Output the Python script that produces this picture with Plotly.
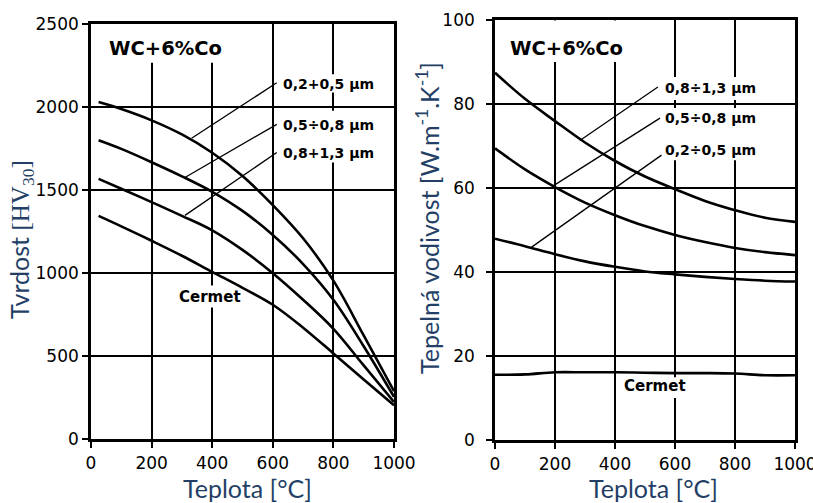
import plotly.graph_objects as go

# ---------------- data ----------------
# Left: hardness HV30 vs temperature
temp_h = [25, 100, 200, 300, 400, 500, 600, 700, 800, 900, 1000]
hv_02_05 = [2030, 1988, 1920, 1835, 1725, 1585, 1410, 1210, 955, 625, 290]
hv_05_08 = [1800, 1748, 1668, 1583, 1490, 1375, 1230, 1055, 840, 560, 255]
hv_08_13 = [1568, 1508, 1428, 1345, 1258, 1140, 1000, 840, 665, 445, 225]
hv_cermet = [1345, 1282, 1195, 1105, 1008, 912, 810, 672, 517, 360, 205]

# Right: thermal conductivity vs temperature
temp_k = [0, 100, 200, 300, 400, 500, 600, 700, 800, 900, 1000]
k_08_13 = [87.5, 81.3, 76, 70.9, 66.5, 62.8, 59.8, 57, 54.8, 53, 52]
k_05_08 = [69.5, 64.5, 60.3, 56.6, 53.6, 51, 48.9, 47.2, 45.8, 44.8, 44.1]
k_02_05 = [48, 46.2, 44.3, 42.6, 41.3, 40.2, 39.5, 38.9, 38.4, 38, 37.8]
k_cermet = [15.6, 15.7, 16.2, 16.2, 16.2, 16.1, 16.0, 16.0, 15.9, 15.5, 15.5]

x_ticks = [0, 200, 400, 600, 800, 1000]
hv_ticks = [0, 500, 1000, 1500, 2000, 2500]
k_ticks = [0, 20, 40, 60, 80, 100]

# labels: (text, x, y) ; leaders: (x0, y0, x1, y1)
left_labels = [("0,2+0,5 µm", 627, 2141), ("0,5÷0,8 µm", 627, 1895), ("0,8+1,3 µm", 627, 1721)]
left_leaders = [(613, 2146, 332, 1812), (613, 1896, 310, 1576), (613, 1726, 310, 1348)]
right_labels = [("0,8÷1,3 µm", 560, 83.9), ("0,5÷0,8 µm", 560, 76.7), ("0,2÷0,5 µm", 560, 69.1)]
right_leaders = [(543, 84.1, 283, 71.4), (550, 76.7, 190, 60.4), (555, 67.9, 122, 46.0)]

# ---------------- figure ----------------
fig = go.Figure()
lw = 2.6
for ys in [hv_02_05, hv_05_08, hv_08_13, hv_cermet]:
    fig.add_trace(go.Scatter(x=temp_h, y=ys, mode="lines", line=dict(color="black", width=lw, shape="spline", smoothing=1.0),
                             xaxis="x", yaxis="y", showlegend=False, hoverinfo="skip"))
for ys in [k_08_13, k_05_08, k_02_05, k_cermet]:
    fig.add_trace(go.Scatter(x=temp_k, y=ys, mode="lines", line=dict(color="black", width=lw, shape="spline", smoothing=1.0),
                             xaxis="x2", yaxis="y2", showlegend=False, hoverinfo="skip"))

tick_font = dict(family="DejaVu Sans", size=17, color="black")
axis_common = dict(showline=True, mirror=True, linecolor="black", linewidth=2.6,
                   showgrid=True, gridcolor="black", gridwidth=1.6, zeroline=False,
                   ticks="outside", ticklen=6, tickwidth=2, tickcolor="black",
                   tickfont=tick_font, automargin=False, fixedrange=True)

fig.update_layout(
    width=813, height=503,
    margin=dict(l=0, r=0, t=0, b=0),
    paper_bgcolor="white", plot_bgcolor="white",
    xaxis=dict(domain=[91/813, 394/813], range=[0, 1000], tickvals=x_ticks, anchor="y",
               ticklabeloverflow="allow", **axis_common),
    yaxis=dict(domain=[(503-439.3)/503, (503-24)/503], range=[0, 2500], tickvals=hv_ticks, anchor="x", **axis_common),
    xaxis2=dict(domain=[495/813, 795/813], range=[0, 1000], tickvals=x_ticks, anchor="y2",
                ticklabeloverflow="allow", **axis_common),
    yaxis2=dict(domain=[(503-440.3)/503, (503-20.3)/503], range=[0, 100], tickvals=k_ticks, anchor="x2",
                ticklabelstandoff=8, **axis_common),
)

shapes = []
# white masks hiding grid lines behind labels
def mask(xr, yr, x0, x1, y0, y1):
    shapes.append(dict(type="rect", xref=xr, yref=yr, x0=x0, x1=x1, y0=y0, y1=y1,
                       fillcolor="white", line=dict(width=0), layer="between"))
mask("x", "y", 40, 452, 2266, 2500)
mask("x", "y", 627, 947, 2088, 2198)
mask("x", "y", 627, 947, 1666, 1978)
mask("x", "y", 280, 512, 794, 926)
mask("x2", "y2", 33, 443, 90.1, 100)
mask("x2", "y2", 557, 883, 81, 86.5)
mask("x2", "y2", 557, 883, 66.7, 79.1)
mask("x2", "y2", 417, 657, 10.1, 15.0)

for (x0, y0, x1, y1) in left_leaders:
    shapes.append(dict(type="line", xref="x", yref="y", x0=x0, y0=y0, x1=x1, y1=y1,
                       line=dict(color="black", width=1.3), layer="above"))
for (x0, y0, x1, y1) in right_leaders:
    shapes.append(dict(type="line", xref="x2", yref="y2", x0=x0, y0=y0, x1=x1, y1=y1,
                       line=dict(color="black", width=1.3), layer="above"))
fig.update_layout(shapes=shapes)

lab_font = dict(family="DejaVu Sans", size=14, color="black")
ann = []
for (t, x, y) in left_labels:
    ann.append(dict(text="<b>%s</b>" % t, x=x, y=y, xref="x", yref="y", xanchor="left", yanchor="middle",
                    showarrow=False, font=lab_font))
for (t, x, y) in right_labels:
    ann.append(dict(text="<b>%s</b>" % t, x=x, y=y, xref="x2", yref="y2", xanchor="left", yanchor="middle",
                    showarrow=False, font=lab_font))
wc_font = dict(family="DejaVu Sans", size=19.5, color="black")
ann.append(dict(text="<b>WC+6%Co</b>", x=53, y=2351, xref="x", yref="y", xanchor="left", yanchor="middle",
                showarrow=False, font=wc_font))
ann.append(dict(text="<b>WC+6%Co</b>", x=43, y=93.4, xref="x2", yref="y2", xanchor="left", yanchor="middle",
                showarrow=False, font=wc_font))
cer_font = dict(family="DejaVu Sans", size=15, color="black")
ann.append(dict(text="<b>Cermet</b>", x=393, y=856, xref="x", yref="y", xanchor="center", yanchor="middle",
                showarrow=False, font=cer_font))
ann.append(dict(text="<b>Cermet</b>", x=533, y=13.0, xref="x2", yref="y2", xanchor="center", yanchor="middle",
                showarrow=False, font=cer_font))

title_color = "#243F66"
title_font = dict(family="Lato", size=25, color=title_color)
ann.append(dict(text="Teplota [°C]", x=247/813, y=1-488/503, xref="paper", yref="paper",
                xanchor="center", yanchor="middle", showarrow=False, font=title_font))
ann.append(dict(text="Teplota [°C]", x=653/813, y=1-488/503, xref="paper", yref="paper",
                xanchor="center", yanchor="middle", showarrow=False, font=title_font))
ann.append(dict(text="Tvrdost <span style=\"font-family:'Liberation Serif'\">[HV<sub>30</sub>]</span>",
                x=21/813, y=1-240/503, xref="paper", yref="paper", textangle=-90,
                xanchor="center", yanchor="middle", showarrow=False, font=title_font))
ann.append(dict(text="Tepelná vodivost [W.m<sup>-1</sup>.K<sup>-1</sup>]",
                x=427/813, y=1-218/503, xref="paper", yref="paper", textangle=-90,
                xanchor="center", yanchor="middle", showarrow=False, font=title_font))
fig.update_layout(annotations=ann)

fig.write_html("out.html")
